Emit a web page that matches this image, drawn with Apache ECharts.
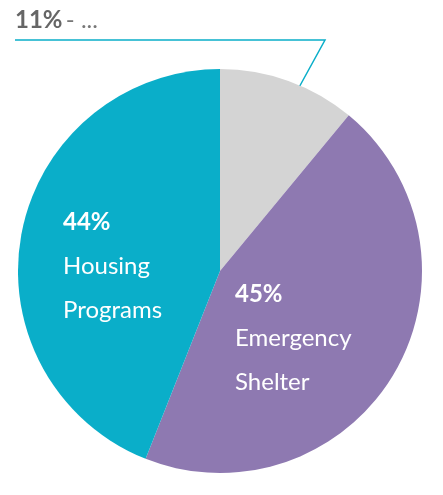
<!DOCTYPE html>
<html><head><meta charset="utf-8">
<script src="https://cdn.jsdelivr.net/npm/echarts@6/dist/echarts.min.js"></script>
<style>html,body{margin:0;padding:0;background:#fff}#c{width:443px;height:495px}</style>
</head><body><div id="c"></div>
<script>
const categories = ['Administration', 'Emergency\nShelter', 'Housing\nPrograms'];
const values = [11, 45, 44];
const colors = ['#d4d4d4', '#8e79b1', '#0aaec9'];
const labelPos = [[15, 20], [235, 338], [63, 266]];

const chart = echarts.init(document.getElementById('c'));
chart.setOption({
  animation: false,
  series: [{
    type: 'pie',
    center: [220, 271],
    radius: [0, 202],
    startAngle: 90,
    clockwise: true,
    data: categories.map((c, i) => ({
      name: c, value: values[i],
      itemStyle: { color: colors[i] },
      label: i === 0 ? {
        position: 'outside',
        formatter: '{b|{c}%} {n|- Administration}',
        rich: {
          b: { fontFamily: 'Lato', fontWeight: 'bold', fontSize: 24, color: '#666' },
          n: { fontFamily: 'Lato', fontSize: 24, color: '#777' }
        }
      } : {
        position: 'inside',
        formatter: '{b|{c}%}\n{n|' + c.split('\n').join('}\n{n|') + '}',
        rich: {
          b: { fontFamily: 'Lato', fontWeight: 'bold', fontSize: 24, color: '#fff', lineHeight: 44 },
          n: { fontFamily: 'Lato', fontSize: 24, color: '#fff', lineHeight: 44 }
        }
      },
      labelLine: i === 0 ? { show: true, length: 60, length2: 20, lineStyle: { color: '#0aaec9', width: 1.5 } } : { show: false }
    })),
    itemStyle: { borderWidth: 0 },
    labelLayout: function (p) {
      const pos = labelPos[p.dataIndex];
      if (p.dataIndex === 0) {
        return { x: pos[0], y: pos[1], align: 'left', verticalAlign: 'middle',
          labelLinePoints: [[280, 122], [325, 40], [15, 40]] };
      }
      return { x: pos[0], y: pos[1], align: 'left', verticalAlign: 'middle' };
    }
  }]
});
</script></body></html>
